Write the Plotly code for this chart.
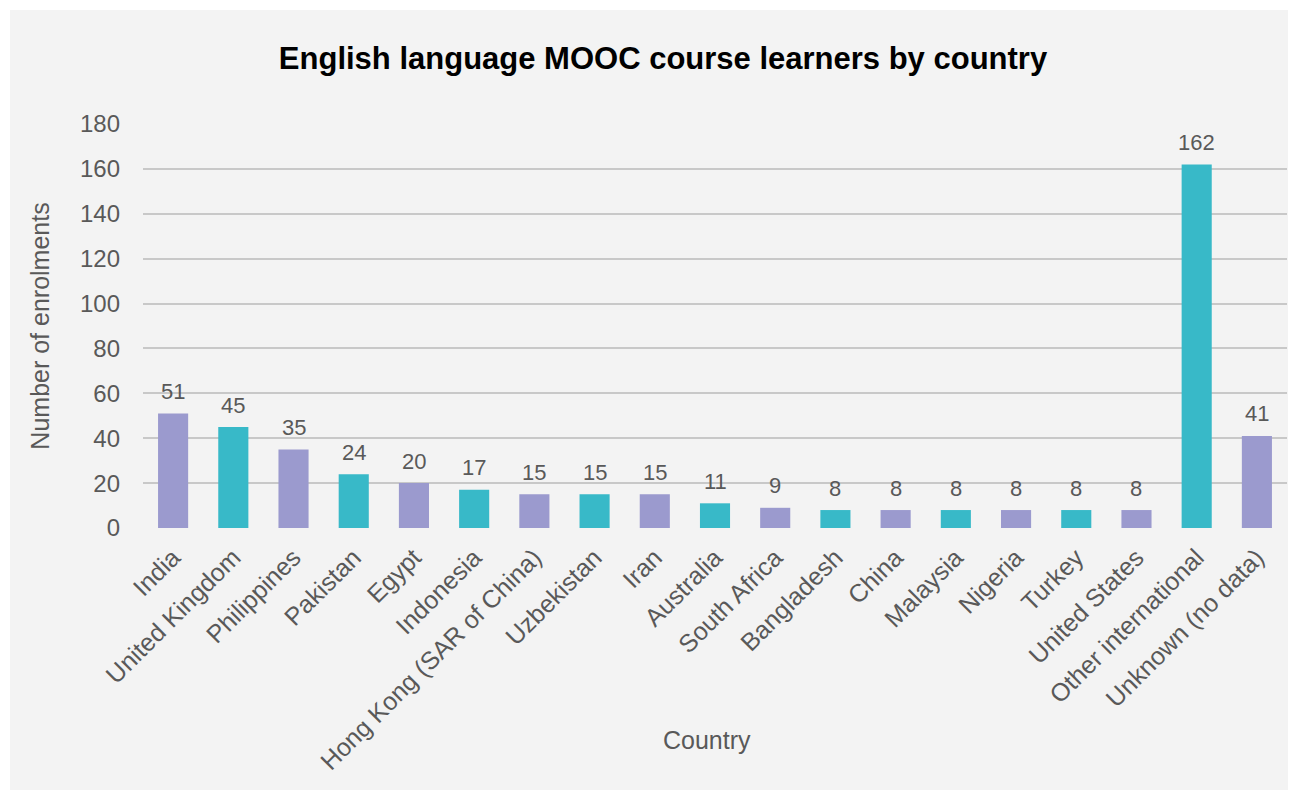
import plotly.graph_objects as go

countries = ["India", "United Kingdom", "Philippines", "Pakistan", "Egypt", "Indonesia",
             "Hong Kong (SAR of China)", "Uzbekistan", "Iran", "Australia", "South Africa",
             "Bangladesh", "China", "Malaysia", "Nigeria", "Turkey", "United States",
             "Other international", "Unknown (no data)"]
enrolments = [51, 45, 35, 24, 20, 17, 15, 15, 15, 11, 9, 8, 8, 8, 8, 8, 8, 162, 41]
y_ticks = [0, 20, 40, 60, 80, 100, 120, 140, 160, 180]

PURPLE = "#9b9ace"
TEAL = "#38b9c8"
bar_colors = [PURPLE if i % 2 == 0 else TEAL for i in range(len(countries))]

TEXT = "#595959"
FONT = "Liberation Sans, Arial, Helvetica, sans-serif"

fig = go.Figure()
fig.add_trace(go.Bar(
    x=countries, y=enrolments,
    marker=dict(color=bar_colors, line=dict(width=0)),
    hoverinfo="x+y",
))

L, R, T, B = 143, 11, 124, 266
W, H = 1298, 794
pw, ph = W - L - R, H - T - B

value_labels = [dict(x=c, y=v, xref="x", yref="y", text=str(v), showarrow=False,
                     yanchor="middle", xanchor="center", yshift=22,
                     font=dict(size=22, color=TEXT, family=FONT))
                for c, v in zip(countries, enrolments)]

fig.update_layout(
    width=W, height=H,
    margin=dict(l=L, r=R, t=T, b=B, pad=0),
    paper_bgcolor="white",
    plot_bgcolor="rgba(0,0,0,0)",
    bargap=0.5,
    showlegend=False,
    font=dict(family=FONT, color=TEXT, size=22),
    title=dict(text="<b>English language MOOC course learners by country</b>",
               x=663 / W, xanchor="center", xref="container", y=1 - 58 / H, yanchor="middle",
               font=dict(size=31, color="black", family=FONT)),
    shapes=[dict(type="rect", xref="paper", yref="paper", layer="below",
                 x0=(10 - L) / pw, x1=(1288 - L) / pw,
                 y0=(H - B - 790) / ph, y1=(H - B - 10) / ph,
                 fillcolor="#f3f3f3", line=dict(width=0))],
    annotations=value_labels + [dict(text="Country", xref="paper", yref="paper",
                      x=(707 - L) / pw, y=(H - B - 740) / ph,
                      xanchor="center", yanchor="middle", showarrow=False,
                      font=dict(size=25, color=TEXT, family=FONT))],
)
fig.update_xaxes(
    tickangle=-45, tickfont=dict(size=25, color=TEXT),
    showgrid=False, showline=False, ticks="", ticklabelstandoff=9,
)
fig.update_yaxes(
    range=[0, 180], tickvals=y_ticks, tickfont=dict(size=24, color=TEXT),
    title=dict(text="Number of enrolments", font=dict(size=25, color=TEXT), standoff=23),
    showgrid=True, gridcolor="#c8c8c8", gridwidth=1.5, zeroline=False,
    showline=False, ticks="", ticklabelstandoff=22,
)

fig.write_html("out.html")
